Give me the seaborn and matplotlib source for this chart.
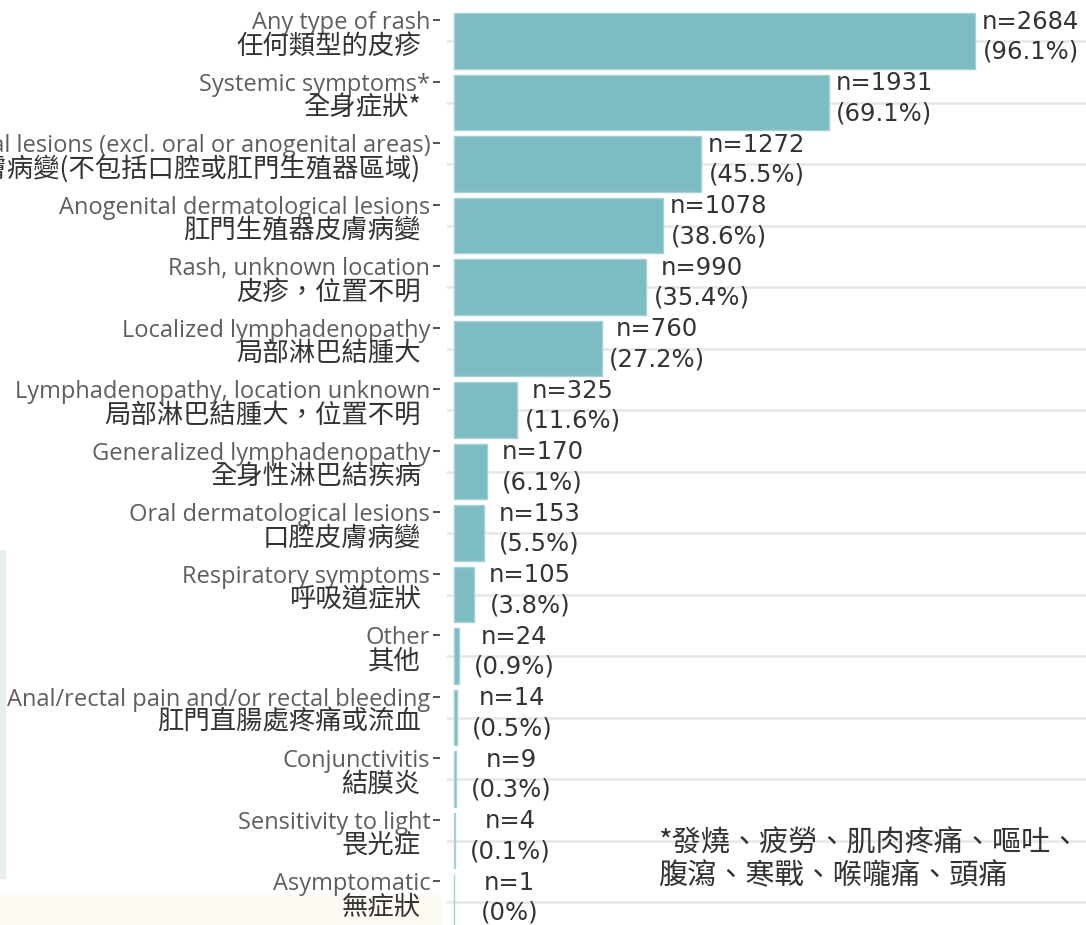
"""
Horizontal bar chart of reported symptoms (English / Traditional Chinese labels).
"""

import matplotlib.pyplot as plt
import pandas as pd
import seaborn as sns
from matplotlib.patches import Rectangle

labels_en = [
    "Any type of rash",
    "Systemic symptoms*",
    "Dermatological lesions (excl. oral or anogenital areas)",
    "Anogenital dermatological lesions",
    "Rash, unknown location",
    "Localized lymphadenopathy",
    "Lymphadenopathy, location unknown",
    "Generalized lymphadenopathy",
    "Oral dermatological lesions",
    "Respiratory symptoms",
    "Other",
    "Anal/rectal pain and/or rectal bleeding",
    "Conjunctivitis",
    "Sensitivity to light",
    "Asymptomatic",
]
labels_zh = [
    "任何類型的皮疹",
    "全身症狀*",
    "皮膚病變(不包括口腔或肛門生殖器區域)",
    "肛門生殖器皮膚病變",
    "皮疹，位置不明",
    "局部淋巴結腫大",
    "局部淋巴結腫大，位置不明",
    "全身性淋巴結疾病",
    "口腔皮膚病變",
    "呼吸道症狀",
    "其他",
    "肛門直腸處疼痛或流血",
    "結膜炎",
    "畏光症",
    "無症狀",
]
counts = [2684, 1931, 1272, 1078, 990, 760, 325, 170, 153, 105, 24, 14, 9, 4, 1]
percents = [96.1, 69.1, 45.5, 38.6, 35.4, 27.2, 11.6, 6.1, 5.5, 3.8, 0.9, 0.5, 0.3, 0.1, 0]
footnote = "*發燒、疲勞、肌肉疼痛、嘔吐、\n腹瀉、寒戰、喉嚨痛、頭痛"

BAR_COLOR = "#7dbcc3"
ZH_FONT = ["Noto Sans CJK TC", "DejaVu Sans"]

sns.set_theme(style="white")
plt.rcParams["font.family"] = ["Open Sans", "Noto Sans CJK TC", "DejaVu Sans"]

df = pd.DataFrame({"label": labels_en, "count": counts, "pct": percents})

fig = plt.figure(figsize=(10.86, 9.25), dpi=100)
ax = fig.add_axes([0.4116, -0.0084, 0.5884, 0.9973])

# page fragments visible in the screenshot
fig.patches.append(Rectangle((0, 1 - 878 / 925), 5 / 1086, 328 / 925,
                             transform=fig.transFigure, color="#e8eeeb", zorder=-5))
fig.patches.append(Rectangle((0, 0), 440 / 1086, 30 / 925,
                             transform=fig.transFigure, color="#fdfaf4", zorder=-5))

sns.barplot(
    data=df,
    x="count",
    y="label",
    orient="h",
    color=BAR_COLOR,
    saturation=1,
    width=0.9,
    edgecolor="#a6d2d7",
    linewidth=1,
    ax=ax,
)

n = len(labels_en)
ax.set_xlim(-36, 3256)
ax.set_ylim(n - 0.5, -0.5)

# English labels sit on the upper line, gridlines run through bar centres
ax.set_yticks([i - 0.34 for i in range(n)])
ax.set_yticklabels(labels_en)
ax.set_yticks(range(n), minor=True)
ax.tick_params(axis="y", which="major", length=5, width=1.2, color="#333333",
               pad=2, left=True, labelsize=17, labelcolor="#5e5e5e")
ax.tick_params(axis="y", which="minor", length=0)
ax.grid(axis="y", which="minor", color="#e6e6e6", linewidth=1.8)
ax.grid(axis="y", which="major", visible=False)
ax.grid(axis="x", visible=False)
ax.set_axisbelow(True)
ax.set_xticks([])
ax.set_xlabel("")
ax.set_ylabel("")
ax.patch.set_alpha(0)
for side in ["top", "right", "bottom"]:
    ax.spines[side].set_visible(False)
ax.spines["left"].set_color("none")
ax.spines["left"].set_position(("outward", 5))

# Chinese labels on the second line
for i, zh in enumerate(labels_zh):
    ax.annotate(
        zh,
        xy=(0, i + 0.08),
        xycoords=("axes fraction", "data"),
        xytext=(-19, 0),
        textcoords="offset points",
        ha="right",
        va="center",
        fontsize=19,
        color="#333333",
        family=ZH_FONT,
    )

# value labels
for i, (c, p) in enumerate(zip(counts, percents)):
    ax.annotate(
        f"n={c}\n({p:g}%)",
        xy=(c, i - 0.07),
        xytext=(40, 0),
        textcoords="offset points",
        ha="center",
        va="center",
        fontsize=17.5,
        linespacing=1.3,
        color="#333333",
        family="DejaVu Sans",
    )

fig.text(658 / 1086, 1 - 860 / 925, footnote, ha="left", va="center",
         fontsize=21, linespacing=1.15, color="#333333", family=ZH_FONT)

fig.savefig("out.png", dpi=100)
plt.close(fig)
